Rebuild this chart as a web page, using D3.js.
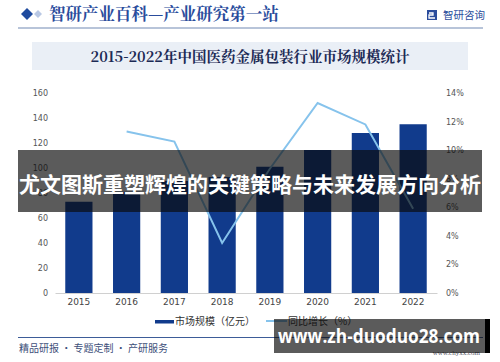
<!DOCTYPE html>
<html>
<head>
<meta charset="utf-8">
<script src="https://cdn.jsdelivr.net/npm/d3@7"></script>
<style>
  html, body { margin: 0; padding: 0; background: #fff; }
  svg { display: block; font-family: "Noto Sans CJK SC", "Noto Sans", sans-serif; }
</style>
</head>
<body>
<div id="chart"></div>
<script>
// data
var years = ['2015', '2016', '2017', '2018', '2019', '2020', '2021', '2022'];
var marketSize = [73, 81, 89.6, 92.7, 101, 114.4, 128, 135];   // 亿元
var growth = [null, 11.3, 10.6, 3.5, 8.7, 13.3, 11.8, 5.9];    // %
var leftTicks = [0, 20, 40, 60, 80, 100, 120, 140, 160];
var rightTicks = [0, 2, 4, 6, 8, 10, 12, 14];

var W = 500, H = 362;
var serif = '"Noto Serif CJK SC", "Noto Sans CJK SC", serif';

var svg = d3.select('#chart').append('svg')
    .attr('width', W)
    .attr('height', H);

// header
svg.append('path')
    .attr('d', 'M21,14 L27,8 L33,14 L27,20 Z')
    .attr('fill', '#1f4b9e');
svg.append('path')
    .attr('d', 'M34,14 L38,10 L42,14 L38,18 Z')
    .attr('fill', '#b9c8e4');
svg.append('text')
    .attr('x', 49).attr('y', 20)
    .attr('font-size', 16.5)
    .attr('font-weight', 'bold')
    .attr('font-family', serif)
    .attr('fill', '#2a4c9c')
    .text('智研产业百科—产业研究第一站');

// small logo at right
var logo = svg.append('g').attr('transform', 'translate(427,10)');
logo.append('rect').attr('width', 10).attr('height', 10).attr('fill', '#2a4c9c');
logo.append('path').attr('d', 'M2,3 H6 V5 H2 V8 H8').attr('stroke', '#fff').attr('stroke-width', 1.3).attr('fill', 'none');
svg.append('text')
    .attr('x', 443).attr('y', 19)
    .attr('font-size', 10.5)
    .attr('fill', '#2a4c9c')
    .text('智研咨询');

svg.append('line')
    .attr('x1', 18).attr('x2', 483)
    .attr('y1', 28).attr('y2', 28)
    .attr('stroke', '#7089b3')
    .attr('stroke-width', 1);

// chart title box
svg.append('rect')
    .attr('x', 32).attr('y', 42)
    .attr('width', 436).attr('height', 28)
    .attr('fill', '#eaeff6');
svg.append('text')
    .attr('x', 250).attr('y', 61.5)
    .attr('text-anchor', 'middle')
    .attr('font-size', 14.5)
    .attr('font-weight', 'bold')
    .attr('font-family', serif)
    .attr('fill', '#1c2a55')
    .text('2015-2022年中国医药金属包装行业市场规模统计');

// scales
var x = d3.scaleBand()
    .domain(years)
    .range([55, 437])
    .paddingInner(0.43)
    .paddingOuter(0.215);

var yL = d3.scaleLinear().domain([0, 160]).range([293, 93]);
var yR = d3.scaleLinear().domain([0, 14]).range([293, 93]);

// axes
var leftAxis = d3.axisLeft(yL).tickValues(leftTicks).tickSize(0).tickPadding(0);
var gL = svg.append('g').attr('transform', 'translate(48,0)').call(leftAxis);
gL.select('.domain').remove();
gL.selectAll('text').attr('font-size', 8).attr('fill', '#555').attr('font-family', '"DejaVu Sans", sans-serif');

var rightAxis = d3.axisRight(yR).tickValues(rightTicks).tickSize(0).tickPadding(0)
    .tickFormat(function (d) { return d + '%'; });
var gR = svg.append('g').attr('transform', 'translate(446,0)').call(rightAxis);
gR.select('.domain').remove();
gR.selectAll('text').attr('font-size', 8).attr('fill', '#555').attr('font-family', '"DejaVu Sans", sans-serif');

var bottomAxis = d3.axisBottom(x).tickSize(0).tickPadding(6);
var gB = svg.append('g').attr('transform', 'translate(0,293)').call(bottomAxis);
gB.select('.domain').attr('stroke', '#d0d0d0');
gB.selectAll('text').attr('font-size', 9).attr('fill', '#444').attr('font-family', '"DejaVu Sans", sans-serif');

// bars
svg.selectAll('rect.bar')
    .data(marketSize)
    .enter()
    .append('rect')
    .attr('class', 'bar')
    .attr('x', function (d, i) { return x(years[i]); })
    .attr('width', x.bandwidth())
    .attr('y', function (d) { return yL(d); })
    .attr('height', function (d) { return yL(0) - yL(d); })
    .attr('fill', '#113b8c');

// growth line
var line = d3.line()
    .defined(function (d) { return d != null; })
    .x(function (d, i) { return x(years[i]) + x.bandwidth() / 2; })
    .y(function (d) { return yR(d); });

svg.append('path')
    .datum(growth)
    .attr('d', line)
    .attr('fill', 'none')
    .attr('stroke', '#86c3ec')
    .attr('stroke-width', 2);

// legend
svg.append('rect')
    .attr('x', 155).attr('y', 320)
    .attr('width', 19).attr('height', 3.5)
    .attr('fill', '#113b8c');
svg.append('text')
    .attr('x', 175).attr('y', 325)
    .attr('font-size', 10).attr('fill', '#333')
    .text('市场规模（亿元）');
svg.append('line')
    .attr('x1', 266).attr('x2', 287)
    .attr('y1', 321).attr('y2', 321)
    .attr('stroke', '#86c3ec').attr('stroke-width', 2);
svg.append('text')
    .attr('x', 288).attr('y', 325)
    .attr('font-size', 10).attr('fill', '#333')
    .text('同比增长（%）');

// footer
svg.append('line')
    .attr('x1', 18).attr('x2', 483)
    .attr('y1', 337.5).attr('y2', 337.5)
    .attr('stroke', '#3d5c98').attr('stroke-width', 1);
svg.append('text')
    .attr('x', 19).attr('y', 352)
    .attr('font-size', 10).attr('fill', '#3d4f7a')
    .text('精品研报 · 专题定制 · 产研服务');
svg.append('text')
    .attr('x', 480).attr('y', 355)
    .attr('text-anchor', 'end')
    .attr('font-size', 7).attr('font-family', '"Liberation Serif", serif')
    .attr('fill', '#556')
    .text('www.chyxx.com');

// overlay banners
svg.append('rect')
    .attr('x', 18).attr('y', 150)
    .attr('width', 464).attr('height', 62)
    .attr('fill', 'rgba(10,10,10,0.67)');
svg.append('text')
    .attr('x', 250).attr('y', 192)
    .attr('text-anchor', 'middle')
    .attr('font-size', 21)
    .attr('font-weight', 'bold')
    .attr('fill', '#fff')
    .text('尤文图斯重塑辉煌的关键策略与未来发展方向分析');

svg.append('rect')
    .attr('x', 274).attr('y', 319)
    .attr('width', 211).attr('height', 34)
    .attr('fill', 'rgba(10,10,10,0.67)');
svg.append('rect')
    .attr('x', 485).attr('y', 319)
    .attr('width', 5).attr('height', 34)
    .attr('fill', '#000');
svg.append('text')
    .attr('x', 278).attr('y', 343)
    .attr('font-size', 19)
    .attr('font-weight', 'bold')
    .attr('font-family', '"Open Sans", "DejaVu Sans", sans-serif')
    .attr('textLength', 202)
    .attr('lengthAdjust', 'spacingAndGlyphs')
    .attr('fill', '#fff')
    .text('www.zh-duoduo28.com');
</script>
</body>
</html>
